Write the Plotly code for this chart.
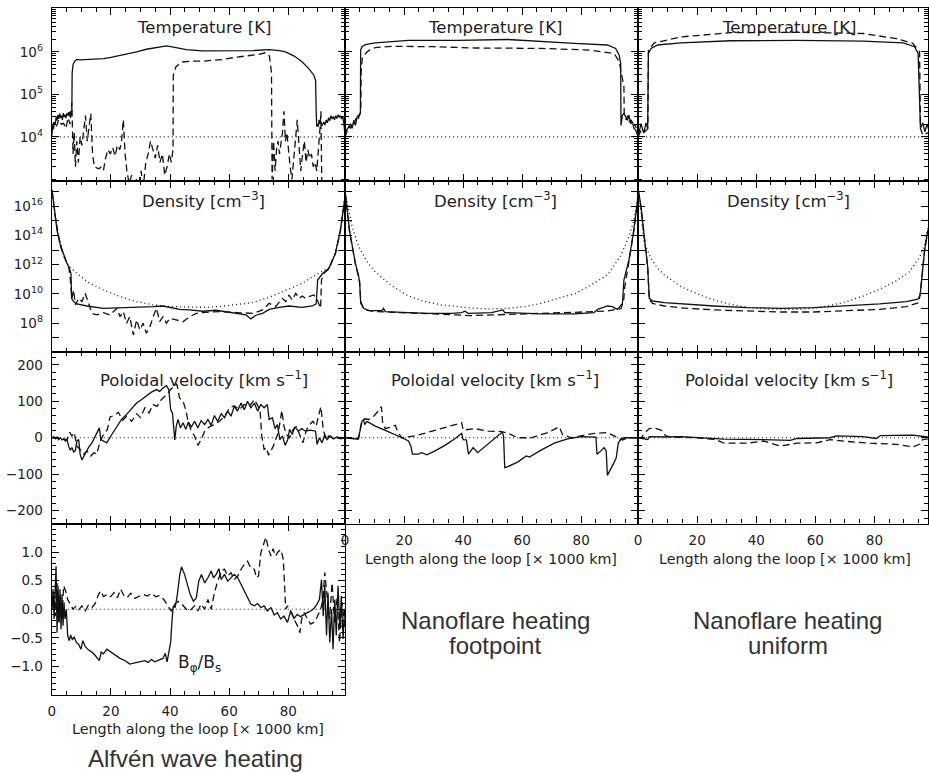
import numpy as np
import plotly.graph_objects as go

# ---------------- data ----------------
# x: length along the loop [x1000 km]

# Temperature (log10 K)
x_T_alf_solid = [0, 0.3, 0.6, 0.9, 1.2, 1.5, 1.8, 2.1, 2.4, 2.7, 3.0, 3.3, 3.6, 3.9, 4.2, 4.5, 4.8, 5.1, 5.4, 5.7, 6.0, 6.3, 6.6, 6.8,
                 6.9, 7.2, 7.8, 8.5, 9.6, 12, 15, 17.5, 20, 23, 26, 28.7, 32, 35, 38.8, 42, 45.5, 51, 56, 62, 68, 73.5, 77, 79, 82,
                 84.7, 87, 88.6, 89.2, 89.4, 89.6, 89.8, 90.1, 90.4, 90.7, 91.0, 91.3, 91.6, 92.0, 92.4, 92.8, 93.2, 93.6, 94.0,
                 94.4, 94.8, 95.2, 95.6, 96.0, 96.4, 96.8, 97.2, 97.6, 98.0, 98.4, 98.8, 99.2]
lgT_alf_solid = [4.0, 4.25, 4.18, 4.35, 4.3, 4.48, 4.38, 4.52, 4.42, 4.55, 4.45, 4.5, 4.4, 4.56, 4.47, 4.52, 4.44, 4.55, 4.5, 4.58, 4.48, 4.6, 4.55, 4.62,
                 5.5, 5.7, 5.78, 5.82, 5.81, 5.82, 5.83, 5.84, 5.87, 5.91, 5.96, 6.0, 6.06, 6.1, 6.14, 6.1, 6.05, 6.02, 6.02, 6.02, 6.03, 6.05, 6.03, 6.0, 5.9,
                 5.76, 5.6, 5.45, 5.33, 4.6, 4.24, 4.3, 4.24, 4.4, 4.3, 4.36, 4.26, 4.3, 4.35, 4.28, 4.4, 4.33, 4.45, 4.38,
                 4.5, 4.42, 4.48, 4.4, 4.5, 4.43, 4.52, 4.46, 4.5, 4.42, 4.48, 4.3, 4.0]
x_T_alf_dash = [0, 0.8, 1.6, 2.4, 3.2, 4.0, 4.8, 5.5, 6.2, 6.8, 7.2, 7.6, 8.0, 8.5, 9.0, 9.6, 10.2, 10.8, 11.4, 12.0, 12.6, 13.2, 13.8, 14.4,
                15.2, 16.0, 16.8, 17.5, 18.2, 19.0, 19.8, 20.6, 21.4, 22.2, 23.0, 23.6, 24.2, 24.8, 25.4, 26.2, 27.0, 27.8, 28.6, 29.4, 30.2,
                31.0, 31.8, 32.6, 33.4, 34.2, 35.0, 35.8, 36.6, 37.4, 38.2, 39.0, 39.8, 40.4, 41.0,
                41.1, 42, 44, 47, 51, 55, 58, 62, 66, 70, 72.4, 73.6, 74.3,
                74.5, 75.0, 75.5, 76.0, 76.5, 77.0, 77.5, 78.0, 78.5, 79.0, 79.5, 80.0, 80.6, 81.2, 81.8, 82.4, 83.0, 83.6, 84.2, 84.8,
                85.4, 86.0, 86.6, 87.2, 87.8, 88.4, 89.0, 89.6, 90.2, 90.8, 91.0, 91.3]
lgT_alf_dash = [4.2, 4.35, 4.25, 4.4, 4.3, 4.32, 4.2, 4.45, 4.3, 4.8, 3.6, 4.1, 3.3, 3.9, 3.4, 4.0, 3.8, 4.1, 4.5, 3.9, 4.3, 4.55, 3.6, 3.3,
                3.27, 3.25, 3.3, 3.22, 3.5, 3.7, 3.6, 3.75, 3.55, 3.8, 3.7, 3.9, 4.4, 3.6, 3.2, 2.9, 3.1, 2.8, 3.0, 2.9, 3.2,
                2.85, 3.4, 3.6, 3.9, 3.7, 3.5, 3.8, 3.4, 3.6, 3.1, 3.3, 3.6, 3.4, 3.7,
                5.45, 5.65, 5.76, 5.78, 5.78, 5.8, 5.82, 5.87, 5.9, 5.94, 5.98, 5.9, 5.5,
                3.0, 3.9, 3.2, 3.7, 3.9, 3.6, 3.8, 4.1, 4.6, 3.9, 4.1, 3.7, 3.3, 3.0, 3.5, 3.9, 4.4, 3.8, 3.2, 3.6,
                3.9, 3.4, 3.7, 3.5, 3.6, 3.3, 3.4, 3.2, 3.7, 4.3, 4.6, 2.9]
x_T_fp_solid = [0, 0.11, 1.24, 1.8, 2.36, 2.92, 3.49, 4.05, 4.61, 5.17, 5.25, 5.7, 6.9, 10.2, 21.5, 38.3, 55.2, 66.4, 77.7, 88.9,
                91.7, 92.9, 93.4, 93.5, 94.0, 94.5, 95.1, 95.7, 96.2, 96.8, 97.4, 97.9, 98.5, 99.4]
lgT_fp_solid = [4.0, 4.12, 4.24, 4.31, 4.2, 4.39, 4.27, 4.47, 4.51, 4.55, 6.04, 6.12, 6.17, 6.21, 6.27, 6.27, 6.29, 6.24, 6.2, 6.16,
                6.08, 5.92, 5.73, 4.27, 4.51, 4.55, 4.47, 4.39, 4.51, 4.31, 4.35, 4.2, 4.16, 4.0]
x_T_fp_dash = [0, 0.5, 1.2, 1.8, 2.4, 3.0, 3.6, 4.2, 4.8, 5.3, 5.4, 5.8, 6.9, 8, 10.2, 15.8, 30, 44, 66.4, 83,
               91.2, 92.9, 94.5, 94.6, 95.2, 95.8, 96.4, 97.0, 97.6, 98.3, 99.4]
lgT_fp_dash = [4.0, 4.1, 4.25, 4.2, 4.35, 4.3, 4.42, 4.38, 4.5, 4.6, 5.5, 5.85, 5.96, 6.03, 6.1, 6.13, 6.12, 6.09, 6.08, 6.04,
               5.96, 5.77, 5.18, 4.55, 4.4, 4.5, 4.35, 4.4, 4.25, 4.3, 4.0]
x_T_uni_solid = [0, 1.0, 1.9, 2.7, 3.25, 3.5, 4.4, 6.6, 14.5, 31.3, 53.8, 76.2, 89.7, 93.6, 94.8, 95.3, 95.6, 96.4, 97.1, 97.8, 98.5]
lgT_uni_solid = [4.0, 4.31, 4.09, 4.33, 4.2, 5.96, 6.08, 6.16, 6.21, 6.26, 6.27, 6.25, 6.21, 6.12, 5.96, 4.86, 4.2, 4.33, 4.12, 4.3, 4.15]
x_T_uni_dash = [0, 1.0, 2.0, 3.0, 3.3, 3.5, 5.5, 14.5, 31.3, 53.8, 76.2, 87.4, 93.0, 95.3, 95.6, 96.4, 98.2]
lgT_uni_dash = [4.0, 4.15, 4.1, 4.2, 4.2, 6.04, 6.21, 6.35, 6.45, 6.46, 6.43, 6.31, 6.2, 6.0, 4.2, 4.04, 4.1]
T_REF = 1e4

# Density (log10 cm^-3)
x_n_alf_solid = [0.1, 0.67, 1.23, 1.79, 2.91, 4.03, 5.15, 6.05, 6.5, 6.72, 7.4, 8.5, 11.9, 17.5, 23.1, 28.7, 34.3, 37.6, 39.9, 43.2,
                 46.6, 51.1, 55.6, 60.1, 62.3, 65.7, 67.3, 69.0, 71.3, 73.5, 76.9, 80.2, 84.7, 88.1, 89.4, 89.9, 91.4, 93.7, 95.9, 97.6,
                 98.7, 99.3]
lgn_alf_solid = [17.09, 16.18, 15.27, 14.36, 13.34, 12.66, 12.09, 11.68, 11.41, 9.7, 9.48, 9.32, 9.18, 9.02, 9.05, 9.09, 9.14, 9.18, 9.09, 8.95,
                 8.91, 8.82, 8.89, 8.77, 8.68, 8.57, 8.3, 8.55, 8.68, 8.95, 9.09, 9.18, 9.09, 9.18, 9.32, 10.95, 11.36, 11.75, 12.77, 14.36,
                 15.95, 16.86]
x_n_alf_dash = [0.1, 1.23, 2.91, 4.03, 5.15, 5.7, 6.3, 6.8, 7.4, 8.0, 9.1, 10.2, 11.3, 12.4, 13.6, 15.2, 17.5, 19.7, 22.0, 23.1,
                24.2, 25.3, 26.4, 27.6, 28.7, 29.8, 30.9, 32.0, 33.2, 34.3, 35.4, 36.5, 37.6, 38.8, 39.9, 42.1, 44.4, 46.6, 48.9, 51.1,
                56.7, 62.3, 68.2, 71.3, 73.5, 75.7, 78.0, 79.1, 80.2, 81.3, 82.5, 83.6, 84.7, 85.8, 86.9, 88.6, 89.8, 90.9, 91.2, 92.0,
                93.7, 95.9, 97.6, 98.7, 99.3]
lgn_alf_dash = [17.0, 15.2, 13.3, 12.6, 12.1, 11.98, 10.95, 9.7, 10.27, 9.25, 9.7, 9.48, 10.05, 9.36, 8.68, 8.57, 8.73, 8.57, 9.02, 8.45,
                8.8, 8.0, 8.45, 7.2, 8.23, 7.55, 8.0, 7.32, 7.77, 8.45, 9.02, 8.11, 8.45, 8.0, 8.34, 8.23, 8.11, 8.45, 8.68, 8.73,
                8.8, 8.73, 8.68, 8.91, 9.36, 9.14, 9.7, 9.48, 9.93, 9.59, 10.05, 9.7, 9.86, 9.7, 9.82, 9.93, 9.59, 9.02, 10.95, 11.41,
                11.7, 12.75, 14.3, 15.9, 16.8]
x_n_alf_dot = [0.1, 1.79, 4.03, 5.7, 8.5, 11.9, 17.5, 23.1, 28.7, 34.3, 39.9, 45.5, 51.1, 56.7, 62.3, 67.9, 73.5, 79.1, 84.7, 89.2,
               91.4, 93.7, 95.9, 97.6, 99.3]
lgn_alf_dot = [17.1, 14.4, 12.7, 11.9, 11.41, 10.84, 10.27, 9.82, 9.48, 9.25, 9.14, 9.09, 9.09, 9.14, 9.25, 9.41, 9.77, 10.27, 10.73, 11.3,
               11.52, 11.8, 12.8, 14.4, 16.9]
x_n_fp_solid = [0, 0.67, 1.46, 2.36, 3.49, 4.61, 4.95, 5.28, 6.3, 8.0, 12.5, 13.0, 13.6, 21.5, 28.2, 36.1, 39.5, 40.6, 41.7, 49.6,
                53.5, 54.1, 66.4, 77.7, 84.4, 85.6, 88.9, 90.6, 92.3, 94.0, 94.5, 96.2, 97.7, 99.0, 99.4]
lgn_fp_solid = [16.98, 15.61, 14.36, 13.34, 12.09, 11.18, 10.61, 9.36, 9.02, 8.86, 8.86, 9.02, 8.8, 8.73, 8.68, 8.68, 8.73, 8.82, 8.68, 8.73,
                8.91, 8.73, 8.64, 8.64, 8.73, 8.95, 9.18, 9.14, 8.95, 9.36, 10.95, 12.32, 14.14, 16.18, 16.86]
x_n_fp_dash = [0, 1.46, 3.49, 4.9, 5.3, 6.3, 10, 20, 28, 35, 42, 48, 55, 65, 78, 88.9, 93.5, 94.4, 94.8, 96.2, 97.7, 99.0, 99.4]
lgn_fp_dash = [16.9, 14.3, 12.0, 10.9, 9.5, 8.95, 8.8, 8.73, 8.66, 8.6, 8.52, 8.55, 8.6, 8.68, 8.75, 8.84, 9.0, 9.5, 10.5, 12.2, 14.1, 16.1, 16.8]
x_n_fp_dot = [0.1, 2.36, 4.6, 7.4, 10.2, 15.9, 21.5, 27.1, 32.7, 44.0, 49.6, 55.2, 60.8, 66.4, 72.1, 77.7, 83.3, 88.9, 93.4, 96.2, 97.9, 99.4]
lgn_fp_dot = [16.86, 14.59, 13.23, 12.2, 11.5, 10.55, 9.86, 9.48, 9.25, 9.02, 8.98, 9.02, 9.14, 9.36, 9.7, 10.0, 10.6, 11.3, 12.6, 13.91, 15.05, 16.86]
x_n_uni_solid = [0.1, 1.0, 2.1, 3.25, 3.8, 4.9, 8.9, 14.5, 25.7, 36.9, 48.1, 59.4, 70.6, 81.8, 90.8, 94.7, 95.5, 96.2, 97.0, 98.1]
lgn_uni_solid = [17.09, 15.95, 13.91, 11.86, 9.7, 9.52, 9.41, 9.32, 9.18, 9.07, 9.02, 9.07, 9.18, 9.32, 9.48, 9.64, 9.93, 11.64, 13.0, 14.36]
x_n_uni_dash = [0.1, 1.0, 2.1, 3.25, 3.8, 4.9, 8.9, 14.5, 25.7, 36.9, 48.1, 59.4, 70.6, 81.8, 90.8, 95.0, 95.5, 96.2, 97.0, 98.1]
lgn_uni_dash = [17.0, 15.9, 13.9, 11.8, 9.6, 9.35, 9.18, 9.05, 8.91, 8.84, 8.77, 8.77, 8.84, 8.95, 9.14, 9.4, 10.0, 11.6, 12.95, 14.3]
x_n_uni_dot = [0.45, 2.1, 4.4, 6.6, 8.9, 14.5, 20.1, 25.7, 31.3, 36.9, 42.5, 48.1, 53.8, 59.4, 65.0, 70.6, 76.2, 81.8, 87.4, 91.9,
               95.3, 97.0, 98.4]
lgn_uni_dot = [16.64, 13.45, 12.43, 11.75, 11.3, 10.5, 10.0, 9.59, 9.3, 9.09, 8.98, 8.95, 8.95, 9.02, 9.2, 9.48, 9.86, 10.32, 10.89, 11.52,
               12.5, 13.34, 14.82]

# Poloidal velocity (km/s)
x_v_alf_solid = [0.1, 0.67, 1.23, 1.79, 2.35, 2.91, 3.47, 4.03, 4.6, 5.15, 5.71, 6.27, 6.83, 7.4, 7.96, 8.5, 9.1, 9.6, 10.2, 11.3,
                 12.4, 13.6, 14.7, 16.1, 16.6, 17.5, 18.6, 20.3, 22.0, 23.6, 25.3, 27.0, 28.7, 30.4, 32.0, 33.7, 35.4, 36.5, 37.6, 38.8,
                 39.6, 40.2, 40.8, 41.6, 42.1, 42.7, 43.5, 44.4, 45.3, 46.2, 47.2, 48.3, 49.4, 50.5, 51.7, 52.8, 53.9, 55.0, 56.1, 57.3,
                 58.4, 59.5, 60.6, 61.7, 62.8, 64.0, 65.1, 66.2, 67.3, 68.5, 69.6, 70.7, 71.8, 72.9, 73.5, 74.6, 75.5, 76.3, 77.1, 78.0,
                 78.9, 79.8, 80.4, 81.3, 82.2, 83.4, 84.5, 85.8, 87.5, 89.2, 89.7, 90.5, 91.4, 92.3, 93.1, 94.2, 95.3, 96.5, 97.6, 99.3]
v_alf_solid = [0, 3, -3, 2, -5, 0, -6, -3, -9, -5, -23, -34, -27, -39, -36, -9, -5, -45, -61, -45,
               -27, -14, 5, 27, -5, -9, -14, 9, 30, 50, 64, 79, 95, 105, 114, 125, 132, 127, 136, 143,
               132, 77, 68, -6, 32, 50, 27, 41, 23, 43, 30, 45, 27, 47, 36, 50, 34, 61, 45, 66,
               55, 73, 59, 86, 73, 95, 77, 100, 82, 95, 73, 91, 82, 91, 50, 55, 25, 36, -5, 5,
               -21, -5, 23, 9, 30, 18, 25, 18, 21, 18, -18, 0, -14, 9, -5, 5, -3, 3, -3, 0]
x_v_alf_dash = [0.1, 2.9, 5.15, 6.05, 6.8, 7.6, 8.5, 9.6, 10.8, 11.9, 13.2, 14.3, 15.2, 16.4, 17.5, 18.8, 19.7, 21.1, 22.5, 24.0,
                25.3, 27.0, 28.7, 30.0, 31.5, 32.9, 34.3, 35.6, 37.1, 38.8, 40.4, 41.6, 42.3, 43.2, 44.4, 45.3, 46.2, 47.2, 48.3, 49.4,
                50.5, 51.7, 53.3, 55.0, 56.7, 58.4, 60.1, 61.7, 63.4, 65.1, 66.8, 68.5, 69.6, 70.4, 71.0, 71.8, 72.6, 73.3, 74.1, 74.9,
                75.7, 76.6, 77.8, 78.5, 79.3, 80.4, 81.6, 82.7, 83.8, 84.9, 86.1, 87.2, 88.3, 89.4, 90.3, 91.0, 91.7, 92.6, 93.7, 95.3,
                99.3]
v_alf_dash = [0, -3, -5, 15, 5, 14, -23, -32, -45, -36, -50, -41, -45, -9, 9, 23, 57, 61, 70, 48,
              59, 45, 66, 55, 82, 68, 91, 86, 105, 118, 134, 141, 148, 109, 100, 77, 41, 18, 5, -21,
              -5, 18, 30, 36, 45, 59, 82, 88, 77, 91, 86, 105, 91, 77, 5, -32, -27, -48, -36, -23,
              -5, 14, 75, 32, 9, 0, 23, 30, 9, -14, 21, 36, 45, 32, 64, 85, 30, -5, 5, -2,
              0]
x_v_fp_solid = [0, 3.5, 4.4, 5.1, 5.7, 6.3, 6.6, 7.4, 10.2, 13.6, 17.0, 19.2, 21.5, 22.3, 22.8, 24.8, 26.0, 27.7, 30.5, 33.8,
                37.2, 39.5, 40.0, 41.1, 41.8, 43.4, 44.9, 48.5, 51.8, 53.2, 53.7, 54.1, 55.2, 58.6, 61.4, 62.5, 66.4, 70.9, 75.4, 79.9,
                85.0, 85.4, 86.7, 87.8, 88.5, 88.9, 90.6, 91.9, 92.6, 93.4, 94.5, 99.4]
v_fp_solid = [0, -2, -4, 21, 45, 50, 36, 45, 32, 20, 9, 0, -9, -23, -45, -45, -41, -47, -36, -21,
              -3, 12, -5, -6, -45, -27, -41, -16, 6, 15, 5, -82, -79, -66, -50, -53, -34, -15, -3, 3,
              2, -45, -36, -27, -36, -103, -77, -55, -14, -5, 0, 0]
x_v_fp_dash = [0, 4.6, 5.5, 6.6, 8.0, 9.7, 11.6, 12.3, 12.7, 13.6, 15.3, 17.0, 17.9, 19.2, 23.7, 30.5, 36.1, 39.5, 40.0, 44.0,
               48.5, 53.0, 55.2, 58.6, 63.1, 68.7, 72.6, 73.7, 76.6, 79.9, 84.4, 88.9, 92.1, 94.0, 95.7, 99.4]
v_fp_dash = [0, -1, 41, 52, 50, 59, 77, 85, 41, 25, 29, 34, 15, 0, 5, 21, 34, 41, 21, 25,
             18, 17, 12, 0, 0, 14, 30, 9, 0, 5, 12, 14, 0, -6, 0, 0]
x_v_uni_solid = [0, 3.3, 3.8, 8.9, 14.5, 20.1, 29.1, 42.5, 51.5, 53.8, 65.0, 67.2, 76.2, 80.7, 82.0, 93.0, 98.1]
v_uni_solid = [0, -5, 3, 2, 3, 0, -4, -5, -7, -2, 0, 5, 3, -2, 6, 7, 2]
x_v_uni_dash = [0, 1.0, 2.1, 3.8, 5.5, 7.7, 9.4, 11.1, 20.1, 26.3, 29.1, 36.9, 42.5, 48.1, 53.8, 60.5, 65.0, 70.6, 78.5, 87.4,
                93.0, 95.3, 96.4, 98.1]
v_uni_dash = [0, -1, 12, 25, 27, 21, 5, 2, 0, -5, -15, -15, -9, -23, -15, -14, -5, -10, -15, -18, -25, -18, -5, -3]
V_REF = 0

# B_phi / B_s (Alfven wave run)
x_b_solid = [0.1, 0.45, 0.78, 1.12, 1.46, 1.79, 2.13, 2.46, 2.8, 3.14, 3.47, 3.81, 4.15, 4.48, 4.93, 5.38, 5.94, 6.39, 6.95, 7.62,
             8.3, 9.08, 9.86, 10.5, 11.3, 12.4, 13.6, 14.7, 16.1, 16.7, 17.5, 18.6, 19.7, 21.4, 23.1, 24.8, 26.4, 28.1, 29.8, 31.5,
             32.6, 33.7, 34.8, 36.5, 37.6, 38.4, 39.0, 39.7, 40.2, 40.7, 41.1, 41.7, 42.4, 43.3, 43.9, 44.9, 45.8, 46.8, 47.9, 48.9,
             49.7, 50.6, 51.7, 52.8, 53.9, 54.7, 55.6, 56.5, 57.3, 58.4, 59.5, 60.6, 61.7, 62.9, 64.0, 65.1, 66.2, 67.3, 68.5, 69.6,
             70.7, 71.8, 72.9, 74.1, 75.2, 76.3, 77.4, 78.5, 79.7, 80.8, 81.9, 83.0, 84.1, 85.3, 86.4, 87.5, 88.6, 89.7, 90.5, 91.2,
             91.8, 92.3, 92.9, 93.4, 94.0, 94.6, 95.1, 95.7, 96.2, 96.8, 97.4, 97.9, 98.5, 99.0]
b_solid = [0, 0.35, -0.17, 0.23, 0.75, -0.41, 0.41, -0.23, 0.35, -0.35, 0.26, -0.29, 0.12, -0.17, 0, -0.46, -0.55, -0.45, -0.53, -0.49,
           -0.58, -0.61, -0.7, -0.55, -0.65, -0.71, -0.75, -0.81, -0.9, -0.75, -0.78, -0.7, -0.74, -0.8, -0.86, -0.9, -0.96, -0.94, -0.92, -0.9,
           -0.93, -0.88, -0.92, -0.88, -0.86, -0.77, -0.92, -0.72, -0.58, -0.17, 0.06, 0.03, 0.23, 0.61, 0.74, 0.61, 0.43, 0.26, 0.14, 0.2,
           0.49, 0.61, 0.46, 0.55, 0.67, 0.55, 0.61, 0.71, 0.52, 0.61, 0.49, 0.55, 0.61, 0.55, 0.43, 0.32, 0.2, 0.09, 0.06, 0.1,
           0.03, 0.06, -0.03, 0.03, -0.1, -0.06, -0.17, -0.12, -0.23, -0.03, -0.16, -0.09, -0.13, -0.1, -0.06, -0.03, 0.01, 0.09, 0.17, 0.52,
           -0.12, 0.43, -0.46, 0.29, -0.58, 0, -0.7, 0.17, -0.46, 0.41, -0.35, 0.23, -0.52, 0]
x_b_dash = [0.1, 0.67, 1.23, 1.79, 2.35, 2.91, 3.47, 4.03, 4.7, 5.38, 6.27, 7.2, 8.1, 9.1, 10.2, 11.3, 12.4, 13.6, 14.7, 15.8,
            16.6, 17.5, 18.8, 19.9, 21.1, 22.2, 23.3, 24.4, 25.5, 26.7, 28.1, 29.6, 30.9, 32.3, 33.7, 35.2, 36.5, 37.9, 39.3, 40.4,
            41.6, 42.7, 43.8, 44.9, 46.0, 47.2, 48.3, 49.4, 50.5, 51.7, 52.8, 53.9, 55.0, 56.1, 57.3, 58.4, 59.5, 60.6, 61.7, 62.9,
            64.0, 65.1, 66.2, 67.3, 68.5, 69.2, 69.9, 70.7, 71.5, 72.4, 73.2, 74.1, 74.8, 75.7, 76.6, 77.5, 78.3, 78.8, 79.1, 79.7,
            80.4, 81.3, 82.2, 83.1, 83.9, 84.5, 85.3, 86.4, 87.5, 88.6, 89.7, 90.9, 91.7, 92.3, 93.1, 93.9, 94.8, 95.6, 96.5, 97.3,
            98.2, 99.0]
b_dash = [0.06, 0.29, -0.12, 0.46, -0.23, 0.23, -0.12, 0.41, 0.32, 0.17, 0.09, 0, 0.05, -0.01, 0.06, -0.03, 0.07, 0.03, 0.1, 0.26,
          0.32, 0.22, 0.26, 0.22, 0.29, 0.2, 0.35, 0.24, 0.2, 0.28, 0.19, 0.22, 0.26, 0.23, 0.28, 0.22, 0.24, 0.17, 0.06, -0.03,
          0.09, 0.14, 0.1, 0.03, -0.03, 0, 0.06, -0.03, 0.09, 0, 0.17, 0, 0.29, 0.49, 0.67, 0.7, 0.58, 0.64, 0.52, 0.58,
          0.7, 0.78, 0.84, 0.72, 0.7, 0.55, 0.58, 0.99, 1.13, 1.26, 1.07, 0.93, 1.06, 0.93, 1.01, 1.04, 0.87, 0.35, 0, 0.06,
          0, -0.09, -0.2, -0.29, -0.41, -0.17, -0.06, -0.17, -0.26, -0.23, -0.14, 0, 0.17, 0.64, 0.29, -0.17, 0.46, -0.23, 0.2, -0.58,
          0.12, -0.29]
B_REF = 0

# axis ticks / labels
X_TICKS = [0, 20, 40, 60, 80]
X_MINOR = [v for v in range(0, 100, 5) if v % 20]
T_TICKS = [1e4, 1e5, 1e6]
T_TICKTEXT = ["10<sup>4</sup>", "10<sup>5</sup>", "10<sup>6</sup>"]
N_LABEL_EXP = [8, 10, 12, 14, 16]
N_OTHER_EXP = [7, 9, 11, 13, 15, 17]
V_TICKS = [-200, -100, 0, 100, 200]
V_TICKTEXT = ["\u2212200", "\u2212100", "0", "100", "200"]
B_TICKS = [-1.0, -0.5, 0.0, 0.5, 1.0]
B_TICKTEXT = ["\u22121.0", "\u22120.5", "0.0", "0.5", "1.0"]

PANEL_TITLES = {"T": "Temperature [K]", "n": "Density [cm<sup>\u22123</sup>]", "v": "Poloidal velocity [km s<sup>\u22121</sup>]"}
XLABEL = "Length along the loop [\u00d7 1000 km]"
RUN_LABELS = ["Alfv\u00e9n wave heating", "Nanoflare heating", "footpoint", "Nanoflare heating", "uniform"]

# ---------------- layout geometry (pixels) ----------------
W, H = 929, 773
COLS = [(48, 343), (343, 637.5), (637.5, 929)]
ROWS = [(8, 180.7), (180.7, 352), (352, 523.5), (523.5, 695)]
XMAX = [99.2, 99.3, 98.15]
FONT = "DejaVu Sans"
LINE = "#111111"
TXT = "#222222"


def fx(p):
    return p / W


def fy(p):
    return 1 - p / H


fig = go.Figure()
layout = dict(width=W, height=H, margin=dict(l=0, r=0, t=0, b=0), paper_bgcolor="white", plot_bgcolor="white",
              showlegend=False, annotations=[])

panels = [(0, 0, "T"), (0, 1, "T"), (0, 2, "T"),
          (1, 0, "n"), (1, 1, "n"), (1, 2, "n"),
          (2, 0, "v"), (2, 1, "v"), (2, 2, "v"),
          (3, 0, "b")]

series = {
    (0, 0): [(x_T_alf_solid, lgT_alf_solid, "solid"), (x_T_alf_dash, lgT_alf_dash, "dash")],
    (0, 1): [(x_T_fp_solid, lgT_fp_solid, "solid"), (x_T_fp_dash, lgT_fp_dash, "dash")],
    (0, 2): [(x_T_uni_solid, lgT_uni_solid, "solid"), (x_T_uni_dash, lgT_uni_dash, "dash")],
    (1, 0): [(x_n_alf_dot, lgn_alf_dot, "dot"), (x_n_alf_solid, lgn_alf_solid, "solid"), (x_n_alf_dash, lgn_alf_dash, "dash")],
    (1, 1): [(x_n_fp_dot, lgn_fp_dot, "dot"), (x_n_fp_solid, lgn_fp_solid, "solid"), (x_n_fp_dash, lgn_fp_dash, "dash")],
    (1, 2): [(x_n_uni_dot, lgn_uni_dot, "dot"), (x_n_uni_solid, lgn_uni_solid, "solid"), (x_n_uni_dash, lgn_uni_dash, "dash")],
    (2, 0): [(x_v_alf_solid, v_alf_solid, "solid"), (x_v_alf_dash, v_alf_dash, "dash")],
    (2, 1): [(x_v_fp_solid, v_fp_solid, "solid"), (x_v_fp_dash, v_fp_dash, "dash")],
    (2, 2): [(x_v_uni_solid, v_uni_solid, "solid"), (x_v_uni_dash, v_uni_dash, "dash")],
    (3, 0): [(x_b_solid, b_solid, "solid"), (x_b_dash, b_dash, "dash")],
}
DASH = {"solid": "solid", "dash": "7px,4px", "dot": "1px,3px"}

tick_font = dict(family=FONT, size=13.5, color=TXT)


def minor(vals, length=4):
    return dict(tickmode="array", tickvals=vals, ticks="inside", ticklen=length, tickcolor="black", tickwidth=1)


for i, (r, c, kind) in enumerate(panels, start=1):
    xa, ya = f"xaxis{i}", f"yaxis{i}"
    bottom = (r == 3) or (r == 2 and c > 0)
    layout[xa] = dict(domain=[fx(COLS[c][0]), fx(COLS[c][1])], anchor=f"y{i}", range=[0, XMAX[c]],
                      showline=True, linecolor="black", linewidth=1.2, mirror="ticks",
                      ticks="inside", ticklen=7, tickwidth=1, tickcolor="black",
                      tickmode="array", tickvals=X_TICKS, ticktext=[str(v) for v in X_TICKS],
                      showticklabels=bottom, tickfont=tick_font, ticklabelstandoff=4,
                      minor=minor(X_MINOR),
                      showgrid=False, zeroline=False, fixedrange=True)
    yd = dict(domain=[fy(ROWS[r][1]), fy(ROWS[r][0])], anchor=f"x{i}",
              showline=True, linecolor="black", linewidth=1.2, mirror="ticks",
              ticks="inside", ticklen=7, tickwidth=1, tickcolor="black",
              showticklabels=(c == 0), tickfont=tick_font, ticklabelstandoff=5,
              showgrid=False, zeroline=False, fixedrange=True, tickmode="array")
    if kind == "T":
        yd.update(type="log", range=[2.97, 7.03], tickvals=T_TICKS, ticktext=T_TICKTEXT,
                  minor=minor([k * 10 ** e for e in range(2, 7) for k in range(2, 11) if k * 10 ** e not in T_TICKS]))
    elif kind == "n":
        yd.update(type="log", range=[6.04, 17.73], tickvals=[10.0 ** e for e in N_LABEL_EXP],
                  ticktext=[f"10<sup>{e}</sup>" for e in N_LABEL_EXP],
                  minor=minor([10.0 ** e for e in N_OTHER_EXP], 7))
    elif kind == "v":
        yd.update(range=[-235, 235], tickvals=V_TICKS, ticktext=V_TICKTEXT,
                  minor=minor([v for v in range(-220, 240, 20) if v % 100]))
    else:
        yd.update(range=[-1.5, 1.5], tickvals=B_TICKS, ticktext=B_TICKTEXT,
                  minor=minor([k / 10 for k in range(-14, 15) if k % 5]))
    layout[ya] = yd

    # reference (dotted) lines
    ref = {"T": T_REF, "v": V_REF, "b": B_REF}.get(kind)
    if ref is not None:
        fig.add_trace(go.Scatter(x=[0, 100], y=[ref, ref], mode="lines", xaxis=f"x{i}", yaxis=f"y{i}",
                                 line=dict(color=LINE, width=1.2, dash=DASH["dot"]), hoverinfo="skip"))

    for xs, ys, style in series[(r, c)]:
        yv = np.array(ys, dtype=float)
        if kind in ("T", "n"):
            yv = 10.0 ** yv
        fig.add_trace(go.Scatter(x=xs, y=yv, mode="lines", xaxis=f"x{i}", yaxis=f"y{i}",
                                 line=dict(color=LINE, width=1.3, dash=DASH[style]),
                                 hoverinfo="skip"))


def ann(text, px, py, size, family=FONT, color=TXT):
    layout["annotations"].append(dict(text=text, x=fx(px), y=fy(py), xref="paper", yref="paper",
                                      xanchor="center", yanchor="middle", showarrow=False,
                                      font=dict(family=family, size=size, color=color)))


# panel titles
title_x = [201, 494, 789]
title_y = {"T": 27, "n": 200, "v": 379}
for r, c, kind in panels:
    if kind in PANEL_TITLES:
        ann(PANEL_TITLES[kind], title_x[c], title_y[kind], 16.5)

# x axis titles
ann(XLABEL, 195, 729, 14.3)
ann(XLABEL, 490, 559, 14.3)
ann(XLABEL, 785, 559, 14.3)

# B_phi/B_s label
ann("B<sub>\u03c6</sub>/B<sub>s</sub>", 197, 663, 17)

# run labels
BIG = "Liberation Sans"
ann(RUN_LABELS[0], 193, 758, 24, BIG, "#333333")
ann(RUN_LABELS[1], 494, 620, 24, BIG, "#333333")
ann(RUN_LABELS[2], 494, 645, 24, BIG, "#333333")
ann(RUN_LABELS[3], 788, 620, 24, BIG, "#333333")
ann(RUN_LABELS[4], 788, 645, 24, BIG, "#333333")

fig.update_layout(**layout)
fig.write_html("out.html", config={"displayModeBar": False},
               post_script="document.body.style.margin='0';document.body.style.overflow='hidden';")
